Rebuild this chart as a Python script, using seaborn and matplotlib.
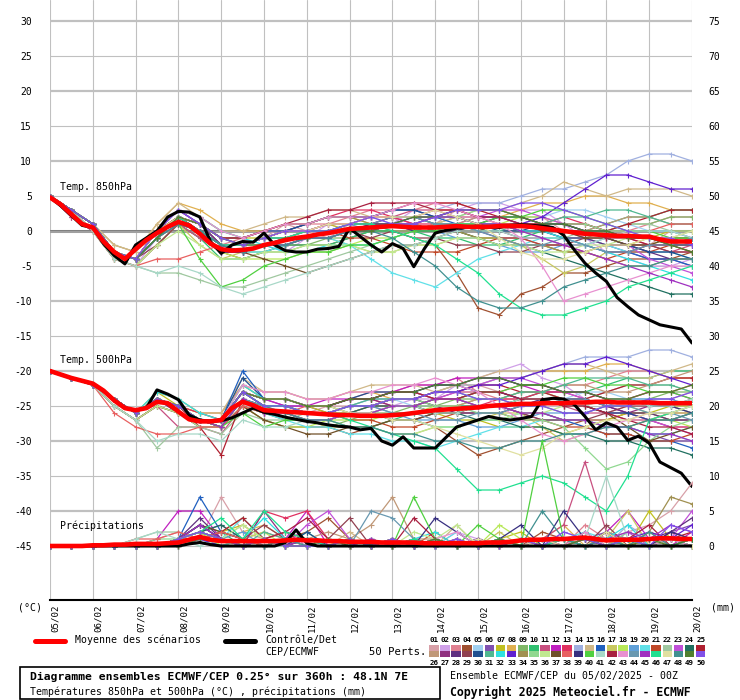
import matplotlib
matplotlib.use("Agg")
import matplotlib.pyplot as plt
from matplotlib.lines import Line2D
from matplotlib.patches import Rectangle
import seaborn as sns
import pandas as pd
import numpy as np

W, H = 740, 700

DATES = ["05/02", "06/02", "07/02", "08/02", "09/02", "10/02", "11/02", "12/02",
         "13/02", "14/02", "15/02", "16/02", "17/02", "18/02", "19/02", "20/02"]

# time axes (hours since 05/02 00Z)
MEMBER_HOURS = list(range(0, 361, 12))
MEAN_HOURS = list(range(0, 361, 6))

MEMBER_COLORS = [
    "#d8a0a8", "#d0a0e8", "#e08090", "#a05030", "#a0d0f0", "#8050b0", "#c0c020", "#e0b050", "#80b868", "#30c070",
    "#c85080", "#c020c0", "#e03060", "#a0b0e0", "#d0b888", "#2060c0", "#c8c860", "#b8e858", "#60a0d8", "#60e0e8",
    "#c04828", "#a0c8a0", "#c050d8", "#207060", "#b02030", "#c09878", "#903080", "#603080", "#904050", "#205090",
    "#50b890", "#30e0e0", "#6020d0", "#a09050", "#90d890", "#c0e890", "#705028", "#e86060", "#383080", "#50d040",
    "#a8d8c8", "#a82040", "#e890d0", "#6898b0", "#a030c0", "#20e090", "#e0e0a0", "#409090", "#508030", "#8050e8",
]

# 850 hPa temperature, ensemble mean and control (6-hourly, °C)
T850_MEAN = [4.8, 3.8, 2.4, 1.0, 0.5,
             -1.5, -3.0, -4.0, -2.6,
             -1.3, -0.3, 0.6, 1.3,
             0.8, -0.4, -1.8, -2.6,
             -2.8, -2.7, -2.5, -2.0,
             -1.7, -1.3, -1.0, -0.8,
             -0.5, -0.3, 0.0, 0.3,
             0.4, 0.5, 0.6, 0.7,
             0.6, 0.5, 0.5, 0.5,
             0.6, 0.7, 0.6, 0.6,
             0.6, 0.7, 0.7, 0.7,
             0.6, 0.4, 0.2, 0.0,
             -0.2, -0.4, -0.5, -0.6,
             -0.7, -0.7, -0.8, -0.8,
             -1.2, -1.5, -1.5, -1.5]
T850_CTRL = [4.8, 3.6, 2.2, 0.8, 0.5,
             -1.8, -3.5, -4.7, -2.0,
             -1.0, 0.0, 2.0, 2.8,
             2.7, 2.0, -1.5, -3.2,
             -2.0, -1.5, -1.6, -0.3,
             -2.0, -2.8, -3.0, -3.0,
             -2.6, -2.5, -2.2, 0.4,
             -0.8, -2.0, -3.0, -1.8,
             -2.5, -5.1, -2.5, -0.3,
             0.1, 0.4, 0.5, 0.7,
             0.6, 0.5, 0.8, 0.9,
             0.8, 0.7, 0.5, -0.6,
             -2.7, -4.6, -6.0, -7.2,
             -9.5, -10.8, -12.0, -12.7,
             -13.4, -13.7, -14.0, -16.0]

# 500 hPa temperature, ensemble mean and control (6-hourly, °C)
T500_MEAN = [-20.0, -20.5, -21.0, -21.4, -21.8,
             -22.8, -24.2, -25.3, -25.6,
             -25.3, -24.4, -24.6, -25.8,
             -26.9, -27.2, -27.2, -27.0,
             -25.3, -24.4, -24.9, -25.6,
             -25.7, -25.8, -25.9, -26.0,
             -26.1, -26.2, -26.3, -26.3,
             -26.4, -26.4, -26.4, -26.3,
             -26.2, -26.0, -25.8, -25.6,
             -25.5, -25.4, -25.3, -25.2,
             -25.0, -24.9, -24.8, -24.7,
             -24.7, -24.6, -24.6, -24.6,
             -24.5, -24.5, -24.4, -24.4,
             -24.5, -24.5, -24.5, -24.5,
             -24.6, -24.6, -24.6, -24.6]
T500_CTRL = [-20.0, -20.5, -21.0, -21.4, -21.8,
             -22.8, -24.2, -25.3, -25.6,
             -25.3, -22.7, -23.3, -24.1,
             -26.3, -27.0, -27.2, -27.1,
             -26.7, -26.0, -25.3, -25.9,
             -26.2, -26.6, -26.9, -27.2,
             -27.4, -27.7, -27.9, -28.0,
             -28.4, -28.2, -30.0, -30.6,
             -29.4, -31.0, -31.0, -31.0,
             -29.5, -28.0, -27.5, -27.0,
             -26.5, -26.8, -27.0, -26.8,
             -26.5, -24.1, -23.9, -24.0,
             -24.8, -26.5, -28.4, -27.4,
             -28.0, -29.9, -29.3, -30.3,
             -33.0, -33.8, -34.6, -36.5]

# precipitation, ensemble mean and control (6-hourly, mm)
PRECIP_MEAN = [0, 0, 0, 0, 0.1,
               0.1, 0.2, 0.2, 0.3,
               0.3, 0.3, 0.4, 0.5,
               0.9, 1.3, 0.9, 0.7,
               0.7, 0.7, 0.7, 0.7,
               0.7, 0.8, 0.9, 0.8,
               0.8, 0.7, 0.7, 0.6,
               0.6, 0.6, 0.5, 0.5,
               0.5, 0.5, 0.4, 0.4,
               0.4, 0.4, 0.4, 0.4,
               0.5, 0.5, 0.6, 0.8,
               0.9, 0.9, 1.0, 1.0,
               1.1, 1.2, 1.0, 0.8,
               0.9, 0.9, 0.9, 1.0,
               1.1, 1.1, 1.0, 1.0]
PRECIP_CTRL = [0, 0, 0, 0, 0,
               0, 0, 0, 0,
               0, 0, 0, 0,
               0.3, 0.5, 0.2, 0,
               0, 0, 0, 0,
               0, 0.5, 2.3, 0.4,
               0, 0, 0, 0,
               0, 0, 0, 0,
               0, 0, 0, 0,
               0, 0, 0, 0,
               0, 0, 0, 0,
               0, 0, 0, 0,
               0, 0, 0, 0,
               0, 0, 0, 0,
               0, 0, 0, 0]

# 50 perturbed members, 850 hPa (°C), 12-hourly
T850_MEMBERS = [
    [5, 3, 1, -3, -4, 0, 2, 0, -2, -2, -1, 1, 0, -1, 1, 2, 2, 0, 1, 3, 2, 1, 1, 2, 0, 0, -1, -2, -2, 0, -1],
    [5, 3, 0, -4, -5, -1, 1, -1, -3, -3, -2, -3, -1, 1, 0, 0, 1, 3, 2, 3, 4, 4, 3, 3, 1, -1, -3, -4, -5, -5, -4],
    [5, 3, 1, -3, -4, -1, 2, 1, -2, -1, 0, 0, 1, 1, 2, 3, 3, 3, 4, 4, 3, 3, 2, 2, 1, 1, 0, 0, 1, 2, 2],
    [5, 2, 0, -4, -5, -2, 1, -1, -3, -4, -3, -2, -2, -2, -1, 0, 0, -1, -2, -6, -11, -12, -9, -8, -6, -6, -5, -4, -4, -4, -3],
    [5, 3, 1, -2, -3, 0, 3, 1, -1, -2, -1, 0, 0, 0, 1, 2, 1, 1, 0, 0, 1, 2, 2, 2, 3, 3, 2, 1, 0, 0, -1],
    [5, 2, 0, -3, -4, -1, 2, 0, -3, -3, -2, -2, -1, 0, 0, 1, 1, 0, 1, 1, 0, -1, -1, -2, -3, -3, -2, -3, -4, -4, -5],
    [5, 3, 1, -3, -4, 0, 3, 2, 0, -1, -1, 0, 0, 1, 0, 0, 1, 1, 0, 0, -1, -1, -2, -2, -3, -3, -2, -2, -1, 0, 0],
    [5, 3, 1, -2, -3, 1, 4, 3, 1, 0, 0, 1, 1, 2, 2, 1, 1, 2, 2, 3, 2, 2, 3, 4, 4, 5, 5, 4, 4, 3, 3],
    [5, 3, 1, -3, -4, -1, 2, 0, -2, -3, -3, -3, -2, -1, -1, 0, 0, 0, 1, 2, 1, 1, 0, -1, -1, -1, 0, 1, 1, 2, 2],
    [5, 3, 0, -4, -5, -2, 1, -1, -4, -4, -3, -2, -2, -2, -1, 0, 0, 0, -1, -1, -2, -2, -1, 0, 0, 0, 1, 2, 2, 3, 3],
    [5, 2, 0, -4, -5, -2, 1, -1, -3, -3, -2, -2, -1, 0, 1, 1, 2, 3, 3, 2, 2, 2, 1, 0, 0, -1, -2, -2, -3, -3, -2],
    [5, 3, 1, -3, -4, 0, 3, 1, -2, -2, -1, 0, 0, 1, 1, 2, 2, 1, 2, 3, 3, 3, 2, 1, 1, 0, 0, -1, -1, -1, -2],
    [5, 3, 1, -3, -4, -1, 2, 1, -1, -2, -1, 0, 1, 2, 3, 3, 2, 1, 1, 0, 0, 1, 1, 1, 2, 1, 0, -1, -2, -3, -3],
    [5, 3, 1, -3, -4, 0, 2, 1, -1, -2, -1, 0, 0, 0, 1, 2, 2, 2, 3, 4, 4, 4, 5, 6, 6, 7, 8, 10, 11, 11, 10],
    [5, 3, 1, -2, -3, 1, 4, 2, 0, 0, 1, 2, 2, 3, 3, 2, 2, 2, 1, 2, 3, 3, 4, 5, 7, 6, 5, 6, 6, 6, 5],
    [5, 3, 1, -3, -4, -1, 2, 1, -1, -1, 0, 0, 1, 2, 2, 2, 3, 3, 2, 1, 1, 1, 0, 0, -1, -2, -3, -3, -4, -4, -5],
    [5, 3, 0, -4, -5, -2, 1, -2, -4, -3, -2, -2, -1, -1, -2, -3, -3, -2, -2, -1, -1, -1, -2, -4, -6, -5, -3, -3, -2, -1, -1],
    [5, 3, 1, -3, -4, -1, 2, 0, -3, -4, -4, -4, -3, -3, -2, -1, -1, 0, 0, 1, 1, 1, 2, 2, 1, 0, 0, -1, -1, -2, -3],
    [5, 3, 1, -3, -4, 0, 3, 1, -2, -2, -1, -1, 0, 1, 1, 0, 1, 1, 0, -1, -1, -2, -3, -3, -2, -2, -1, 0, 0, 0, -1],
    [5, 3, 1, -3, -4, -1, 2, 0, -2, -3, -3, -2, -1, -1, -2, -4, -6, -7, -8, -6, -4, -3, -2, -1, -1, -1, -2, -3, -3, -3, -4],
    [5, 3, 1, -3, -4, -1, 2, 0, -2, -2, -1, -1, 0, 0, -1, -1, -2, -3, -3, -3, -2, -1, -1, -2, -2, -3, -4, -3, -3, -2, -2],
    [5, 3, 0, -4, -5, -6, -6, -7, -8, -8, -7, -6, -5, -4, -3, -2, -1, 0, 0, 0, 1, 1, 0, 0, -1, 0, 0, 1, 1, 0, 0],
    [5, 3, 1, -3, -4, 0, 3, 1, -1, -2, -1, 0, 0, 1, 1, 2, 2, 2, 1, 1, 2, 3, 3, 2, 1, 0, -1, -2, -4, -5, -6],
    [5, 3, 1, -3, -4, -1, 2, 1, -2, -3, -2, -2, -1, -1, 0, 0, 1, 1, 0, 0, -1, -2, -2, -3, -4, -5, -6, -7, -8, -9, -9],
    [5, 3, 1, -3, -4, 0, 2, 1, -1, -1, 0, 1, 1, 2, 2, 2, 3, 4, 4, 4, 3, 2, 2, 1, 1, 1, 0, 1, 2, 3, 3],
    [5, 3, 1, -3, -4, -1, 1, 0, -2, -2, -1, -1, 0, 0, 1, 1, 0, 0, 1, 1, 2, 2, 1, 1, 0, 0, 1, 2, 2, 1, 1],
    [5, 3, 1, -3, -4, 0, 3, 1, -2, -2, -1, 0, 0, 0, 1, 1, 2, 2, 1, 0, 0, 0, -1, -1, -2, -2, -3, -3, -2, -2, -1],
    [5, 3, 1, -3, -4, -1, 2, 0, -3, -3, -2, -2, -1, -1, 0, 0, 1, 1, 2, 2, 1, 1, 0, 0, -1, -1, -2, -2, -3, -4, -4],
    [5, 3, 0, -3, -4, -2, 1, 0, -2, -3, -2, -2, -1, 0, 0, -1, 0, -1, -1, -2, -2, -3, -3, -2, -2, -1, -1, -2, -2, -3, -3],
    [5, 3, 1, -3, -4, 0, 2, 1, -1, -2, -1, 0, 1, 2, 2, 2, 3, 3, 2, 2, 1, 0, 0, 1, 1, 0, -1, -2, -3, -3, -4],
    [5, 3, 1, -3, -4, -1, 2, 0, -2, -2, -2, -2, -1, 0, 0, 0, 1, 2, 1, 1, 0, 0, 1, 1, 2, 2, 3, 3, 2, 1, 1],
    [5, 3, 1, -3, -4, 0, 3, 2, 0, -1, -2, -3, -3, -2, -2, -2, -1, 0, 0, 1, 1, 1, 0, 0, -1, -2, -3, -4, -5, -6, -7],
    [5, 3, 1, -3, -4, -1, 2, 0, -2, -3, -2, -2, -1, -1, 0, 0, 1, 2, 2, 3, 2, 2, 1, 2, 4, 6, 8, 8, 7, 6, 6],
    [5, 3, 1, -3, -4, 0, 2, 1, -1, -1, 0, 1, 1, 2, 2, 1, 1, 1, 0, 0, -1, -1, -2, -2, -3, -3, -4, -5, -5, -4, -4],
    [5, 3, 1, -3, -4, -1, 2, 0, -2, -3, -2, -2, -1, -1, 0, 0, 1, 1, 2, 2, 3, 3, 2, 1, 1, 1, 0, 0, -1, -1, 0],
    [5, 3, 0, -4, -5, -2, 0, -2, -4, -4, -3, -3, -2, -2, -2, -3, -3, -2, -2, -1, -1, -2, -2, -3, -3, -2, -2, -1, -1, -2, -2],
    [5, 3, 1, -3, -4, -1, 2, 0, -2, -3, -4, -5, -6, -5, -4, -3, -2, -2, -1, 0, 0, 1, 1, 0, 0, -1, -1, -2, -2, -1, -1],
    [5, 3, 0, -4, -5, -4, -4, -3, -2, -2, -1, 0, 0, 1, 1, 2, 2, 2, 3, 3, 2, 1, 1, 1, 0, 0, -1, 0, 0, 1, 1],
    [5, 3, 1, -3, -4, -1, 2, 0, -3, -3, -2, -1, -1, 0, 0, 1, 1, 0, 0, 0, 1, 2, 2, 1, 1, 0, 0, -1, -1, -2, -2],
    [5, 3, 1, -3, -4, -1, 1, -4, -8, -7, -5, -4, -3, -3, -2, -2, -1, 0, 0, 1, 1, 2, 2, 3, 3, 2, 1, 0, 0, -1, -1],
    [5, 3, 0, -4, -5, -6, -5, -6, -8, -9, -8, -7, -6, -5, -4, -3, -2, -2, -1, 0, 0, 0, -1, -1, -2, -2, -1, 0, 0, 0, -1],
    [5, 3, 1, -3, -4, 0, 2, 1, -1, -1, 0, 1, 2, 3, 3, 4, 4, 4, 3, 3, 2, 2, 1, 1, 0, 0, -1, -1, -2, -2, -3],
    [5, 3, 1, -3, -4, 0, 3, 2, 0, -1, 0, 1, 1, 2, 2, 2, 3, 4, 4, 3, 2, 1, -1, -5, -10, -9, -8, -7, -6, -5, -5],
    [5, 3, 1, -3, -4, -1, 2, 0, -2, -2, -1, -1, 0, 0, 1, 1, 2, 2, 1, 1, 0, -1, -2, -2, -1, -2, -3, -3, -2, -2, -1],
    [5, 3, 1, -3, -4, -1, 1, 0, -2, -3, -2, -2, -1, -1, 0, 0, 1, 1, 2, 2, 1, 1, 0, -1, -2, -3, -4, -5, -6, -7, -8],
    [5, 3, 1, -3, -4, -1, 2, 0, -2, -2, -1, -1, 0, 0, 1, 1, 0, -1, -2, -4, -6, -9, -11, -12, -12, -11, -10, -8, -7, -6, -5],
    [5, 3, 1, -3, -4, 0, 2, 1, -1, -2, -1, 0, 0, 1, 1, 2, 2, 2, 3, 2, 1, -1, -3, -4, -4, -3, -2, -2, -1, -1, 0],
    [5, 3, 1, -3, -4, -1, 1, 0, -2, -3, -2, -2, -1, -1, 0, 0, -1, -3, -5, -8, -10, -11, -11, -10, -8, -7, -6, -5, -5, -4, -4],
    [5, 3, 1, -3, -4, -1, 2, 1, -1, -2, -2, -1, -1, 0, 0, 0, 1, 2, 2, 3, 3, 3, 2, 1, 1, 0, 0, -1, -1, -2, -3],
    [5, 3, 1, -3, -4, 0, 3, 1, -1, -2, -1, 0, 0, 0, 1, 2, 1, 1, 2, 3, 3, 3, 4, 4, 3, 2, 1, 0, -1, -1, -2],
]

# 50 perturbed members, 500 hPa (°C), 12-hourly
T500_MEMBERS = [
    [-20, -21, -22, -24, -26, -24, -25, -27, -27, -23, -25, -26, -26, -25, -25, -25, -24, -24, -23, -23, -22, -23, -24, -24, -25, -25, -26, -25, -24, -24, -23],
    [-20, -21, -22, -25, -27, -25, -26, -28, -28, -24, -26, -27, -27, -27, -26, -26, -25, -24, -24, -22, -21, -20, -19, -21, -22, -24, -25, -26, -27, -28, -28],
    [-20, -21, -22, -24, -26, -24, -25, -26, -26, -22, -24, -24, -25, -25, -24, -23, -23, -22, -22, -21, -23, -24, -24, -23, -22, -22, -21, -20, -20, -21, -21],
    [-20, -21, -22, -25, -27, -25, -26, -27, -28, -25, -27, -28, -28, -28, -29, -28, -27, -27, -28, -30, -32, -31, -30, -29, -28, -27, -27, -26, -26, -27, -27],
    [-20, -21, -22, -24, -26, -24, -25, -27, -27, -24, -25, -25, -26, -26, -25, -24, -24, -25, -25, -25, -26, -26, -25, -24, -24, -23, -23, -24, -24, -25, -25],
    [-20, -21, -22, -24, -26, -24, -26, -27, -27, -23, -24, -25, -25, -26, -26, -26, -27, -27, -26, -25, -25, -25, -26, -27, -27, -27, -28, -28, -29, -30, -30],
    [-20, -21, -22, -24, -26, -23, -25, -26, -27, -22, -24, -24, -25, -26, -26, -25, -25, -25, -26, -27, -27, -28, -28, -28, -29, -28, -27, -26, -26, -25, -25],
    [-20, -21, -22, -24, -26, -23, -24, -26, -26, -22, -23, -23, -24, -24, -23, -23, -24, -24, -23, -22, -22, -21, -21, -20, -20, -20, -19, -19, -20, -21, -21],
    [-20, -21, -22, -24, -26, -24, -25, -27, -28, -25, -26, -26, -27, -28, -27, -26, -26, -25, -25, -24, -24, -24, -25, -25, -26, -26, -25, -25, -24, -23, -23],
    [-20, -21, -22, -25, -27, -25, -26, -28, -28, -24, -26, -27, -27, -27, -28, -28, -27, -26, -26, -25, -25, -25, -24, -23, -23, -23, -22, -21, -21, -20, -20],
    [-20, -21, -22, -25, -27, -25, -28, -28, -29, -25, -26, -26, -27, -27, -26, -25, -25, -25, -24, -23, -23, -23, -24, -24, -25, -26, -26, -27, -27, -26, -26],
    [-20, -21, -22, -24, -26, -24, -25, -27, -27, -23, -24, -25, -25, -24, -24, -24, -23, -22, -22, -21, -21, -21, -22, -23, -23, -23, -24, -24, -23, -23, -24],
    [-20, -21, -22, -24, -26, -24, -25, -26, -27, -23, -24, -24, -25, -25, -24, -24, -25, -25, -26, -26, -25, -24, -24, -23, -23, -24, -25, -26, -27, -28, -28],
    [-20, -21, -22, -24, -26, -24, -25, -27, -27, -23, -25, -25, -26, -26, -25, -24, -24, -24, -23, -22, -22, -21, -21, -20, -19, -18, -18, -18, -17, -17, -18],
    [-20, -21, -22, -24, -26, -23, -24, -26, -26, -21, -23, -23, -24, -24, -23, -22, -22, -22, -23, -22, -21, -20, -20, -20, -19, -19, -20, -21, -21, -20, -19],
    [-20, -21, -22, -24, -26, -24, -25, -27, -27, -20, -24, -24, -25, -25, -24, -24, -23, -23, -24, -24, -25, -25, -26, -26, -27, -28, -29, -29, -30, -30, -31],
    [-20, -21, -22, -25, -27, -25, -26, -28, -28, -24, -26, -26, -27, -28, -28, -28, -29, -29, -28, -28, -27, -26, -26, -28, -30, -29, -28, -28, -27, -26, -26],
    [-20, -21, -22, -24, -26, -24, -25, -27, -28, -25, -27, -28, -28, -27, -27, -27, -26, -26, -25, -25, -24, -24, -23, -23, -24, -24, -25, -25, -26, -27, -28],
    [-20, -21, -22, -24, -26, -24, -25, -27, -27, -23, -25, -25, -26, -26, -25, -25, -26, -27, -27, -27, -28, -28, -27, -26, -26, -26, -25, -24, -24, -24, -25],
    [-20, -21, -22, -24, -26, -24, -25, -27, -28, -24, -26, -27, -28, -28, -29, -29, -30, -30, -31, -30, -29, -28, -28, -27, -27, -27, -28, -28, -29, -29, -30],
    [-20, -21, -22, -24, -26, -24, -26, -27, -27, -23, -25, -25, -26, -26, -27, -27, -28, -28, -27, -26, -26, -26, -27, -27, -28, -28, -29, -29, -30, -30, -29],
    [-20, -21, -22, -25, -27, -31, -28, -28, -29, -26, -27, -27, -26, -26, -25, -25, -24, -24, -25, -25, -24, -24, -23, -23, -24, -24, -23, -22, -22, -22, -23],
    [-20, -21, -22, -24, -26, -24, -25, -27, -27, -23, -24, -24, -25, -25, -24, -24, -23, -23, -24, -23, -22, -21, -21, -22, -23, -24, -25, -26, -27, -28, -29],
    [-20, -21, -22, -24, -26, -24, -25, -27, -28, -24, -26, -26, -27, -27, -26, -25, -25, -25, -26, -26, -27, -27, -28, -28, -29, -29, -30, -30, -31, -31, -32],
    [-20, -21, -22, -24, -26, -24, -25, -28, -32, -24, -25, -25, -26, -26, -25, -25, -24, -24, -23, -23, -22, -22, -23, -23, -24, -24, -23, -22, -22, -21, -21],
    [-20, -21, -22, -24, -26, -24, -25, -27, -27, -23, -25, -25, -26, -26, -25, -25, -24, -24, -25, -25, -24, -24, -23, -23, -22, -22, -23, -23, -22, -21, -20],
    [-20, -21, -22, -24, -26, -24, -25, -27, -27, -23, -24, -24, -25, -25, -24, -24, -25, -25, -24, -24, -23, -23, -24, -24, -25, -25, -26, -26, -25, -25, -24],
    [-20, -21, -22, -24, -26, -24, -26, -28, -28, -24, -25, -25, -26, -26, -25, -25, -24, -24, -25, -26, -26, -26, -25, -24, -24, -24, -25, -26, -26, -27, -27],
    [-20, -21, -22, -25, -27, -25, -26, -27, -28, -25, -26, -26, -27, -27, -26, -26, -27, -27, -26, -26, -25, -25, -26, -27, -27, -27, -26, -25, -25, -25, -26],
    [-20, -21, -22, -24, -26, -24, -25, -27, -27, -21, -24, -24, -25, -25, -24, -23, -23, -23, -22, -22, -23, -23, -24, -24, -25, -25, -26, -26, -27, -27, -26],
    [-20, -21, -22, -24, -26, -24, -25, -27, -28, -24, -25, -25, -26, -26, -25, -24, -24, -24, -23, -23, -24, -24, -23, -23, -22, -21, -21, -21, -22, -22, -23],
    [-20, -21, -22, -24, -26, -23, -24, -26, -27, -22, -24, -24, -25, -25, -26, -26, -27, -27, -28, -28, -27, -27, -26, -26, -27, -27, -28, -28, -29, -29, -28],
    [-20, -21, -22, -24, -26, -24, -25, -27, -27, -23, -25, -25, -26, -26, -25, -25, -24, -24, -23, -23, -22, -22, -21, -20, -19, -19, -18, -19, -20, -21, -22],
    [-20, -21, -22, -24, -26, -24, -25, -27, -27, -23, -24, -24, -25, -25, -26, -26, -25, -25, -24, -24, -25, -25, -26, -26, -27, -27, -28, -28, -27, -27, -26],
    [-20, -21, -22, -24, -26, -24, -25, -27, -27, -23, -25, -25, -26, -26, -25, -25, -24, -24, -25, -25, -26, -26, -27, -27, -28, -31, -34, -33, -30, -28, -27],
    [-20, -21, -22, -25, -27, -25, -26, -28, -28, -25, -26, -26, -27, -27, -28, -28, -29, -29, -28, -28, -27, -27, -26, -26, -25, -25, -24, -24, -25, -25, -26],
    [-20, -21, -22, -24, -26, -24, -25, -27, -28, -25, -27, -28, -29, -29, -28, -28, -27, -27, -26, -26, -25, -25, -24, -24, -25, -25, -26, -28, -30, -29, -28],
    [-20, -21, -22, -26, -28, -29, -29, -28, -28, -25, -26, -26, -25, -25, -24, -24, -23, -23, -24, -24, -23, -23, -22, -22, -23, -23, -24, -24, -23, -23, -22],
    [-20, -21, -22, -24, -26, -24, -25, -27, -27, -23, -24, -24, -25, -25, -24, -24, -23, -23, -22, -22, -21, -21, -22, -22, -23, -23, -24, -24, -25, -25, -26],
    [-20, -21, -22, -24, -26, -24, -25, -27, -28, -26, -28, -27, -27, -27, -26, -26, -25, -25, -24, -24, -23, -23, -22, -22, -21, -21, -22, -22, -23, -23, -24],
    [-20, -21, -22, -25, -27, -30, -29, -29, -30, -27, -28, -28, -27, -27, -26, -26, -25, -25, -26, -26, -25, -25, -24, -24, -25, -25, -24, -24, -25, -25, -24],
    [-20, -21, -22, -24, -26, -24, -25, -27, -27, -23, -24, -24, -25, -25, -24, -24, -23, -23, -24, -24, -23, -23, -24, -24, -25, -25, -26, -27, -28, -28, -29],
    [-20, -21, -22, -24, -26, -24, -25, -27, -27, -22, -23, -23, -24, -24, -23, -23, -22, -22, -21, -22, -23, -25, -27, -29, -30, -29, -28, -27, -26, -26, -25],
    [-20, -21, -22, -24, -26, -24, -25, -27, -27, -24, -25, -25, -26, -26, -25, -25, -26, -26, -27, -27, -26, -26, -25, -25, -24, -24, -25, -25, -26, -26, -27],
    [-20, -21, -22, -24, -26, -24, -25, -27, -28, -24, -26, -26, -27, -27, -26, -26, -25, -25, -24, -24, -25, -25, -26, -26, -27, -27, -28, -28, -29, -29, -30],
    [-20, -21, -22, -24, -26, -24, -25, -27, -27, -23, -25, -25, -26, -26, -27, -28, -29, -30, -31, -34, -37, -37, -36, -35, -36, -38, -40, -35, -27, -26, -25],
    [-20, -21, -22, -24, -26, -24, -25, -27, -27, -23, -24, -24, -25, -25, -26, -26, -27, -27, -28, -29, -30, -31, -32, -31, -29, -28, -27, -27, -26, -26, -25],
    [-20, -21, -22, -24, -26, -24, -25, -27, -27, -23, -25, -26, -27, -27, -28, -28, -29, -29, -30, -30, -31, -31, -30, -30, -29, -29, -28, -28, -27, -27, -26],
    [-20, -21, -22, -24, -26, -24, -25, -27, -27, -23, -24, -24, -25, -25, -24, -24, -23, -23, -22, -22, -21, -21, -22, -22, -23, -23, -24, -24, -23, -23, -22],
    [-20, -21, -22, -24, -26, -24, -25, -27, -27, -23, -25, -25, -26, -26, -25, -25, -24, -24, -23, -23, -24, -24, -25, -25, -26, -26, -25, -25, -24, -24, -23],
]

# 50 perturbed members, precipitation (mm), 12-hourly
PRECIP_MEMBERS = [
    [0, 0, 0, 0, 0, 0, 0, 1, 7, 2, 1, 0, 1, 0, 0, 1, 0, 0, 1, 0, 0, 1, 0, 0, 1, 0, 1, 2, 3, 5, 9],
    [0, 0, 0, 0, 0, 0, 1, 2, 1, 0, 1, 2, 0, 1, 0, 0, 1, 0, 0, 2, 1, 0, 1, 0, 2, 1, 0, 1, 0, 2, 1],
    [0, 0, 0, 0, 0, 1, 2, 1, 0, 1, 2, 1, 0, 0, 1, 0, 0, 1, 0, 0, 1, 0, 0, 1, 0, 3, 1, 0, 1, 0, 0],
    [0, 0, 0, 0, 0, 0, 1, 3, 1, 0, 0, 1, 2, 4, 1, 0, 0, 1, 0, 0, 0, 1, 0, 2, 1, 0, 1, 0, 2, 1, 1],
    [0, 0, 0, 0, 0, 0, 0, 1, 0, 1, 0, 0, 1, 0, 0, 0, 1, 0, 0, 0, 1, 0, 0, 0, 1, 0, 0, 1, 0, 1, 0],
    [0, 0, 0, 0, 0, 0, 1, 2, 3, 1, 0, 1, 0, 0, 0, 1, 0, 0, 1, 0, 0, 0, 1, 0, 0, 1, 2, 1, 0, 2, 3],
    [0, 0, 0, 0, 0, 0, 0, 1, 2, 3, 1, 0, 1, 0, 0, 0, 0, 1, 0, 0, 0, 1, 2, 0, 1, 0, 1, 0, 5, 1, 0],
    [0, 0, 0, 0, 0, 0, 0, 1, 1, 2, 3, 1, 0, 0, 1, 0, 0, 0, 1, 0, 0, 0, 0, 1, 3, 0, 2, 1, 0, 1, 0],
    [0, 0, 0, 0, 0, 0, 1, 2, 0, 1, 0, 1, 0, 1, 0, 0, 0, 0, 0, 1, 0, 0, 1, 0, 0, 1, 0, 0, 1, 0, 0],
    [0, 0, 0, 0, 0, 0, 1, 3, 2, 0, 1, 0, 2, 0, 1, 0, 0, 1, 0, 0, 0, 1, 0, 0, 1, 0, 0, 1, 0, 0, 1],
    [0, 0, 0, 0, 0, 0, 0, 1, 1, 0, 1, 0, 0, 1, 0, 0, 0, 0, 1, 0, 0, 0, 1, 1, 3, 12, 2, 0, 1, 0, 0],
    [0, 0, 0, 0, 0, 1, 5, 5, 1, 0, 0, 1, 5, 0, 1, 0, 0, 1, 0, 0, 0, 1, 0, 0, 1, 0, 2, 5, 1, 0, 2],
    [0, 0, 0, 0, 0, 0, 1, 2, 1, 0, 5, 4, 5, 1, 0, 0, 0, 0, 0, 1, 0, 0, 1, 0, 0, 1, 0, 0, 1, 0, 0],
    [0, 0, 0, 0, 0, 0, 0, 1, 0, 1, 0, 0, 1, 0, 0, 1, 0, 0, 0, 1, 0, 0, 0, 1, 0, 1, 0, 3, 1, 0, 1],
    [0, 0, 0, 0, 0, 0, 1, 2, 1, 3, 1, 0, 1, 0, 2, 0, 0, 1, 0, 3, 0, 0, 1, 0, 0, 1, 0, 0, 2, 0, 1],
    [0, 0, 0, 0, 0, 0, 1, 7, 2, 1, 0, 1, 0, 0, 0, 0, 1, 0, 0, 0, 1, 0, 0, 1, 0, 0, 1, 0, 0, 1, 0],
    [0, 0, 0, 0, 0, 0, 0, 1, 2, 4, 1, 0, 1, 0, 0, 0, 1, 0, 0, 0, 0, 2, 0, 1, 0, 0, 1, 5, 0, 1, 0],
    [0, 0, 0, 0, 0, 0, 1, 2, 0, 1, 2, 0, 1, 0, 1, 0, 0, 1, 0, 1, 0, 3, 1, 0, 0, 1, 0, 0, 1, 0, 1],
    [0, 0, 0, 0, 0, 0, 0, 1, 1, 2, 0, 1, 0, 0, 0, 1, 0, 0, 0, 0, 1, 0, 0, 0, 1, 0, 2, 1, 0, 1, 0],
    [0, 0, 0, 0, 0, 0, 1, 2, 1, 4, 1, 0, 0, 1, 0, 0, 0, 1, 0, 2, 0, 1, 0, 0, 1, 2, 1, 0, 1, 0, 0],
    [0, 0, 0, 0, 0, 0, 0, 1, 1, 0, 1, 2, 1, 0, 0, 1, 0, 0, 2, 0, 0, 1, 0, 0, 1, 0, 0, 1, 0, 2, 1],
    [0, 0, 0, 0, 1, 2, 2, 1, 0, 1, 0, 0, 1, 0, 0, 0, 0, 0, 1, 0, 0, 0, 0, 1, 0, 0, 1, 0, 0, 1, 0],
    [0, 0, 0, 0, 0, 0, 1, 3, 1, 0, 1, 0, 3, 5, 1, 0, 0, 1, 0, 0, 0, 0, 1, 0, 0, 1, 0, 2, 0, 1, 5],
    [0, 0, 0, 0, 0, 0, 1, 2, 3, 1, 0, 1, 0, 0, 1, 0, 0, 0, 1, 0, 0, 0, 1, 0, 0, 2, 0, 1, 0, 0, 1],
    [0, 0, 0, 0, 0, 0, 1, 1, 2, 4, 1, 0, 1, 0, 0, 0, 1, 0, 0, 0, 1, 0, 0, 0, 1, 0, 0, 1, 0, 1, 2],
    [0, 0, 0, 0, 0, 0, 0, 1, 2, 1, 0, 1, 1, 2, 1, 3, 7, 1, 1, 0, 0, 1, 0, 0, 1, 0, 0, 1, 0, 1, 0],
    [0, 0, 0, 0, 0, 0, 1, 2, 1, 0, 5, 1, 0, 1, 0, 0, 1, 0, 0, 0, 1, 0, 0, 1, 0, 0, 1, 0, 0, 1, 0],
    [0, 0, 0, 0, 0, 0, 1, 4, 1, 0, 1, 0, 1, 0, 0, 1, 0, 0, 1, 0, 0, 0, 0, 1, 0, 0, 2, 0, 1, 2, 4],
    [0, 0, 0, 0, 0, 0, 0, 1, 2, 1, 3, 1, 0, 1, 4, 0, 0, 1, 0, 0, 0, 1, 0, 0, 1, 0, 3, 0, 1, 0, 1],
    [0, 0, 0, 0, 0, 0, 1, 2, 1, 0, 1, 0, 2, 0, 0, 0, 1, 0, 0, 0, 0, 1, 0, 0, 1, 0, 0, 1, 0, 0, 1],
    [0, 0, 0, 0, 0, 0, 1, 3, 1, 0, 2, 1, 0, 0, 1, 0, 0, 0, 1, 0, 0, 0, 1, 0, 0, 1, 0, 0, 1, 0, 0],
    [0, 0, 0, 0, 0, 0, 0, 1, 0, 1, 4, 1, 0, 0, 0, 1, 0, 1, 2, 0, 0, 0, 0, 1, 0, 0, 1, 3, 0, 1, 0],
    [0, 0, 0, 0, 0, 0, 0, 1, 0, 0, 1, 0, 0, 0, 0, 0, 1, 0, 0, 0, 1, 0, 0, 0, 0, 1, 0, 1, 2, 1, 3],
    [0, 0, 0, 0, 0, 0, 1, 2, 1, 0, 0, 1, 0, 0, 1, 0, 0, 0, 0, 1, 0, 0, 1, 0, 0, 1, 0, 0, 2, 7, 6],
    [0, 0, 0, 0, 0, 1, 1, 2, 1, 0, 1, 0, 0, 1, 0, 0, 1, 0, 0, 0, 0, 1, 0, 0, 0, 1, 0, 2, 1, 0, 1],
    [0, 0, 0, 0, 0, 0, 1, 2, 1, 3, 1, 0, 1, 0, 0, 0, 0, 2, 1, 3, 0, 1, 0, 0, 1, 0, 0, 1, 0, 0, 1],
    [0, 0, 0, 0, 0, 0, 1, 3, 2, 1, 0, 1, 1, 0, 0, 0, 1, 0, 0, 0, 0, 1, 0, 0, 1, 0, 2, 0, 1, 0, 0],
    [0, 0, 0, 0, 1, 1, 2, 1, 2, 1, 0, 1, 0, 0, 1, 0, 0, 0, 1, 0, 0, 0, 0, 1, 0, 1, 0, 0, 1, 0, 1],
    [0, 0, 0, 0, 0, 0, 1, 3, 1, 0, 1, 0, 1, 0, 0, 0, 1, 0, 4, 2, 0, 1, 3, 0, 5, 1, 0, 1, 0, 2, 1],
    [0, 0, 0, 0, 0, 0, 1, 2, 1, 0, 1, 0, 0, 0, 1, 0, 0, 7, 1, 0, 3, 1, 0, 15, 1, 0, 1, 0, 0, 1, 0],
    [0, 0, 0, 0, 1, 2, 1, 0, 1, 0, 0, 1, 0, 0, 0, 1, 0, 0, 0, 1, 0, 0, 1, 0, 0, 1, 10, 1, 0, 0, 1],
    [0, 0, 0, 0, 0, 0, 1, 2, 1, 0, 1, 2, 4, 1, 0, 0, 0, 4, 1, 0, 0, 0, 1, 0, 0, 1, 0, 1, 3, 0, 1],
    [0, 0, 0, 0, 0, 0, 0, 1, 1, 0, 1, 0, 0, 1, 0, 1, 0, 0, 1, 2, 0, 1, 0, 1, 0, 2, 0, 1, 0, 1, 0],
    [0, 0, 0, 0, 0, 0, 1, 2, 1, 0, 1, 0, 0, 1, 0, 5, 4, 1, 0, 0, 0, 1, 0, 0, 1, 0, 0, 1, 0, 0, 1],
    [0, 0, 0, 0, 0, 0, 1, 3, 1, 0, 1, 0, 1, 0, 0, 1, 0, 0, 0, 1, 0, 0, 0, 1, 0, 0, 1, 2, 1, 3, 2],
    [0, 0, 0, 0, 0, 0, 1, 2, 4, 1, 5, 2, 1, 0, 1, 0, 0, 1, 0, 0, 0, 1, 0, 0, 1, 0, 0, 1, 0, 0, 1],
    [0, 0, 0, 0, 0, 0, 1, 2, 1, 0, 1, 0, 0, 1, 0, 0, 1, 0, 0, 0, 1, 0, 0, 1, 0, 0, 2, 0, 1, 0, 0],
    [0, 0, 0, 0, 0, 0, 1, 2, 1, 0, 0, 1, 0, 0, 1, 0, 0, 0, 1, 0, 0, 1, 0, 5, 1, 0, 1, 0, 2, 0, 1],
    [0, 0, 0, 0, 0, 0, 0, 1, 1, 0, 1, 0, 0, 1, 0, 0, 0, 0, 1, 0, 0, 1, 0, 0, 0, 1, 0, 0, 1, 0, 1],
    [0, 0, 0, 0, 0, 0, 1, 2, 1, 0, 1, 0, 0, 0, 1, 0, 1, 0, 0, 1, 0, 0, 1, 0, 2, 1, 0, 1, 0, 3, 2],
]

for rows in [T850_MEMBERS, T500_MEMBERS, PRECIP_MEMBERS]:
    assert all(len(r) == len(MEMBER_HOURS) for r in rows), [len(r) for r in rows]


def fxy(px, py):
    # pixel position of the reference -> figure fraction
    return px / W, 1 - py / H


def members_frame(hours, rows):
    recs = []
    for i, vals in enumerate(rows):
        for h, v in zip(hours, vals):
            recs.append((f"{i + 1:02d}", h, v))
    return pd.DataFrame(recs, columns=["member", "hour", "value"])


def draw_members(ax, hours, rows):
    df = members_frame(hours, rows)
    palette = {f"{i + 1:02d}": c for i, c in enumerate(MEMBER_COLORS)}
    sns.lineplot(data=df, x="hour", y="value", hue="member", palette=palette,
                 estimator=None, legend=False, lw=0.9, marker="+", markersize=3.6,
                 markeredgewidth=0.8, markeredgecolor=None, ax=ax)


def draw_main(ax, hours, values, color, lw):
    sns.lineplot(x=hours, y=values, color=color, lw=lw, estimator=None, ax=ax,
                 solid_joinstyle="round")


sns.set_theme(style="white")
plt.rcParams["font.family"] = ["DejaVu Sans Mono"]
plt.rcParams["axes.unicode_minus"] = False
plt.rcParams["text.color"] = "black"

fig = plt.figure(figsize=(W / 100, H / 100), dpi=100)
fig.patch.set_facecolor("white")

# axes: x 50..692 px, y 0..600 px ; 7 px per degree, 0°C at y=231
ax = fig.add_axes([50 / W, 100 / H, 642 / W, 600 / H])
ylo, yhi = (231 - 600) / 7, 231 / 7
ax.set_xlim(0, 360)
ax.set_ylim(ylo, yhi)
ax.set_facecolor("white")

# grid
for h in range(0, 361, 24):
    ax.axvline(h, color="#c0c0c0", lw=0.8, zorder=0)
for v in range(-45, 31, 5):
    if v == 0:
        ax.axhline(v, color="#a0a0a0", lw=2.2, zorder=0)
        ax.axhline(v + 0.1, color="#808080", lw=0.7, zorder=0)
    elif v % 10 == 0:
        ax.axhline(v, color="#c0c0c0", lw=1.6, zorder=0)
    else:
        ax.axhline(v, color="#c0c0c0", lw=0.8, zorder=0)

for s in ["left", "right", "top"]:
    ax.spines[s].set_visible(False)
ax.spines["bottom"].set_color("black")
ax.spines["bottom"].set_linewidth(1.5)

# temperatures
draw_members(ax, MEMBER_HOURS, T850_MEMBERS)
draw_members(ax, MEMBER_HOURS, T500_MEMBERS)
draw_main(ax, MEAN_HOURS, T850_CTRL, "black", 2.2)
draw_main(ax, MEAN_HOURS, T500_CTRL, "black", 2.2)
draw_main(ax, MEAN_HOURS, T850_MEAN, "#ff0000", 3.3)
draw_main(ax, MEAN_HOURS, T500_MEAN, "#ff0000", 3.3)

ax.set_yticks(np.arange(-45, 31, 5))
ax.set_xticks([])
ax.set_xlabel("")
ax.set_ylabel("")
ax.tick_params(axis="y", length=0, pad=13, labelsize=7, labelcolor="black")

# precipitation on the right scale (0 mm at -45 on the left)
ax2 = ax.twinx()
ax2.set_ylim(ylo + 45, yhi + 45)
draw_members(ax2, MEMBER_HOURS, PRECIP_MEMBERS)
draw_main(ax2, MEAN_HOURS, PRECIP_CTRL, "black", 2.2)
draw_main(ax2, MEAN_HOURS, PRECIP_MEAN, "#ff0000", 3.3)
ax2.set_xlim(0, 360)
ax2.set_yticks(np.arange(0, 76, 5))
ax2.set_xticks([])
ax2.set_xlabel("")
ax2.set_ylabel("")
ax2.tick_params(axis="y", length=0, pad=12, labelsize=7, labelcolor="black")
for s in ax2.spines.values():
    s.set_visible(False)

# date labels under the axis
for i, d in enumerate(DATES):
    ax.annotate(d, xy=(i * 24, 0), xycoords=("data", "axes fraction"),
                xytext=(4, -3), textcoords="offset points", rotation=90,
                ha="center", va="top", fontsize=6.6)

# panel labels
fig.text(*fxy(60, 187), "Temp. 850hPa", fontsize=7.1, va="center")
fig.text(*fxy(60, 360), "Temp. 500hPa", fontsize=7.1, va="center")
fig.text(*fxy(60, 526), "Précipitations", fontsize=7.1, va="center")
fig.text(*fxy(18, 607), "(°C)", fontsize=7.1, va="center")
fig.text(*fxy(711, 607), "(mm)", fontsize=7.1, va="center")

# legend
x0, y0 = fxy(35, 641)
x1, _ = fxy(65, 641)
fig.add_artist(Line2D([x0, x1], [y0, y0], color="#ff0000", lw=3.6, transform=fig.transFigure))
fig.text(*fxy(75, 640), "Moyenne des scénarios", fontsize=7.1, va="center")
x0, y0 = fxy(225, 641)
x1, _ = fxy(255, 641)
fig.add_artist(Line2D([x0, x1], [y0, y0], color="black", lw=3.6, transform=fig.transFigure))
fig.text(*fxy(265, 640), "Contrôle/Det", fontsize=7.1, va="center")
fig.text(*fxy(265, 652), "CEP/ECMWF", fontsize=7.1, va="center")
fig.text(*fxy(369, 652), "50 Perts.", fontsize=7.6, va="center")

for i in range(25):
    bx = 429 + 11.12 * i
    for row in range(2):
        c = MEMBER_COLORS[i + 25 * row]
        fig.add_artist(Rectangle(fxy(bx, 651 + 6 * row), 9.6 / W, 6 / H,
                                 transform=fig.transFigure, facecolor=c, edgecolor="none"))
    fig.text(*fxy(bx + 4.8, 639.5), f"{i + 1:02d}", fontsize=5.4, fontweight="bold",
             ha="center", va="center")
    fig.text(*fxy(bx + 4.8, 663), f"{i + 26:02d}", fontsize=5.4, fontweight="bold",
             ha="center", va="center")

# footer
fig.add_artist(Rectangle(fxy(20, 699), 420 / W, 32 / H, transform=fig.transFigure,
                         fill=False, edgecolor="black", lw=1.2))
fig.text(*fxy(30, 677), "Diagramme ensembles ECMWF/CEP 0.25° sur 360h : 48.1N 7E",
         fontsize=8.2, fontweight="bold", va="center")
fig.text(*fxy(30, 692), "Températures 850hPa et 500hPa (°C) , précipitations (mm)",
         fontsize=7.1, va="center")
fig.text(*fxy(450, 676), "Ensemble ECMWF/CEP du 05/02/2025 - 00Z", fontsize=7.1, va="center")
fig.text(*fxy(450, 692), "Copyright 2025 Meteociel.fr - ECMWF", fontsize=8.3,
         fontweight="bold", va="center")

fig.savefig("out.png", dpi=100)
